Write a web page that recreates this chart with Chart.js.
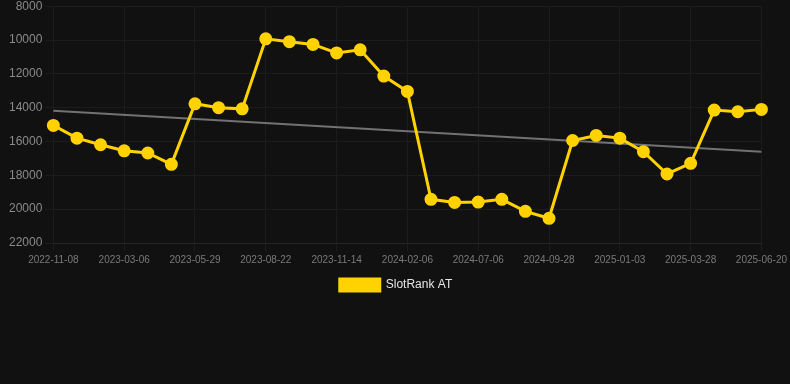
<!DOCTYPE html>
<html>
<head>
<meta charset="utf-8">
<script src="https://cdn.jsdelivr.net/npm/chart.js@4/dist/chart.umd.min.js"></script>
<style>
  html, body { margin: 0; padding: 0; background: #111111; overflow: hidden; }
  #wrap { width: 790px; height: 388px; position: relative; margin-top: -4px; }
</style>
</head>
<body>
<div id="wrap"><canvas id="rankChart"></canvas></div>
<script>
const dates = [
    '2022-11-08', '2022-12-21', '2023-01-28', '2023-03-06', '2023-04-03', '2023-05-01',
    '2023-05-29', '2023-06-26', '2023-07-25', '2023-08-22', '2023-09-19', '2023-10-17',
    '2023-11-14', '2023-12-12', '2024-01-09', '2024-02-06', '2024-03-27', '2024-05-17',
    '2024-07-06', '2024-08-03', '2024-08-31', '2024-09-28', '2024-11-01', '2024-12-04',
    '2025-01-03', '2025-01-31', '2025-02-28', '2025-03-28', '2025-04-25', '2025-05-23',
    '2025-06-20'
];

const rankValues = [
    15050, 15800, 16190, 16550, 16680, 17350,
    13770, 14000, 14070, 9930, 10100, 10260,
    10760, 10580, 12130, 13040, 19420, 19600,
    19580, 19420, 20130, 20540, 15940, 15640,
    15800, 16600, 17920, 17290, 14140, 14240,
    14100
];

// trend line: only the two ends, gap spanned
const trendValues = new Array(dates.length).fill(null);
trendValues[0] = 14185;
trendValues[dates.length - 1] = 16606;

const yTicks = [8000, 10000, 12000, 14000, 16000, 18000, 20000, 22000];

Chart.defaults.font.family = "'Liberation Sans', Arial, sans-serif";

const ctx = document.getElementById('rankChart').getContext('2d');

const rankChart = new Chart(ctx, {
    type: 'line',
    data: {
        labels: dates,
        datasets: [
            {
                label: 'SlotRank AT',
                data: rankValues,
                borderColor: '#ffd200',
                backgroundColor: '#ffd200',
                borderWidth: 3,
                pointRadius: 5,
                pointHoverRadius: 5,
                pointBackgroundColor: '#ffd200',
                pointBorderColor: '#ffd200',
                tension: 0,
                fill: false,
                order: 1
            },
            {
                label: 'trend',
                data: trendValues,
                borderColor: '#727272',
                borderWidth: 2,
                pointRadius: 0,
                spanGaps: true,
                fill: false,
                order: 2
            }
        ]
    },
    options: {
        responsive: true,
        maintainAspectRatio: false,
        animation: false,
        layout: {
            padding: { left: 6, right: 4, top: 0, bottom: 83 }
        },
        scales: {
            x: {
                grid: { color: '#1c1c1c', tickColor: '#1c1c1c' },
                border: { color: '#262626' },
                ticks: {
                    color: '#7a7a7a',
                    font: { size: 10 },
                    autoSkip: false,
                    maxRotation: 0,
                    callback: function(value, index) {
                        return index % 3 === 0 ? dates[index] : null;
                    }
                }
            },
            y: {
                reverse: true,
                min: yTicks[0],
                max: yTicks[yTicks.length - 1],
                grid: { color: '#1c1c1c', tickColor: '#1c1c1c' },
                border: { color: '#1c1c1c' },
                afterBuildTicks: function(axis) {
                    axis.ticks = yTicks.map(v => ({ value: v }));
                },
                ticks: {
                    color: '#8a8a8a',
                    font: { size: 12 },
                    callback: value => String(value)
                }
            }
        },
        plugins: {
            legend: {
                position: 'bottom',
                labels: {
                    color: '#e6e6e6',
                    font: { size: 12 },
                    boxWidth: 40,
                    boxHeight: 12,
                    filter: item => item.text !== 'trend'
                }
            },
            tooltip: { enabled: false }
        }
    }
});
</script>
</body>
</html>
